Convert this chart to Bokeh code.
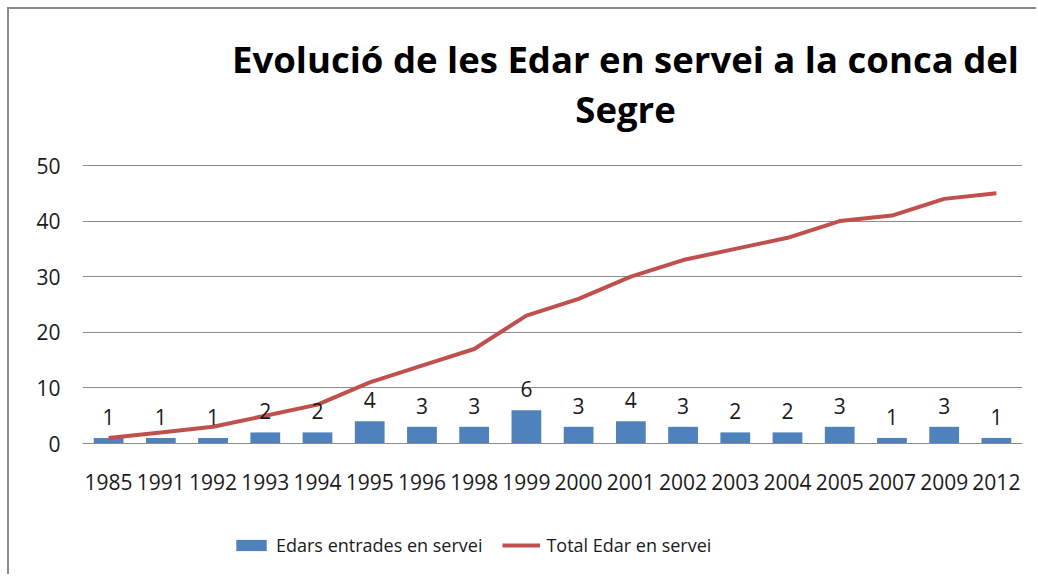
from bokeh.plotting import figure
from bokeh.models import Range1d, FactorRange, Label, Legend, LegendItem, ColumnDataSource
from bokeh.embed import file_html
from bokeh.resources import INLINE
from bokeh.core.properties import value

years = ["1985", "1991", "1992", "1993", "1994", "1995", "1996", "1998", "1999",
         "2000", "2001", "2002", "2003", "2004", "2005", "2007", "2009", "2012"]
new_edars = [1, 1, 1, 2, 2, 4, 3, 3, 6, 3, 4, 3, 2, 2, 3, 1, 3, 1]
total_edars = [1, 2, 3, 5, 7, 11, 14, 17, 23, 26, 30, 33, 35, 37, 40, 41, 44, 45]
title_line1 = "Evolució de les Edar en servei a la conca del"
title_line2 = "Segre"
bar_label = "Edars entrades en servei"
line_label = "Total Edar en servei"
y_ticks = [0, 10, 20, 30, 40, 50]

BLUE = "#4F81BD"
RED = "#C0504D"
GRID = "#8c8c8c"
FONT = "Open Sans"
TXT = "#1a1a1a"

src = ColumnDataSource(dict(x=years, bars=new_edars, total=total_edars,
                            lbl=[str(v) for v in new_edars]))

# frame covers the full height; the value axis 0..50 occupies the middle band
p = figure(frame_width=940, frame_height=565, x_range=FactorRange(*years),
           y_range=Range1d(-23.56, 78.06), title=None,
           output_backend="svg", toolbar_location=None,
           min_border_left=73, min_border_right=14, min_border_top=0, min_border_bottom=0)
p.styles = {"margin-left": "7px", "margin-top": "7px",
            "border-left": "2px solid #8a8a8a", "border-top": "2px solid #8a8a8a"}

bars = p.vbar(x="x", top="bars", width=0.57, source=src, fill_color=BLUE, line_color=None)
line = p.line(x="x", y="total", source=src, line_color=RED, line_width=4)
p.text(x="x", y="bars", text="lbl", source=src, text_align="center", text_baseline="bottom",
       y_offset=-13, text_font=value(FONT), text_font_size="21px", text_color=TXT)

for txt, yy in ((title_line1, 516), (title_line2, 466)):
    p.add_layout(Label(x=543, y=yy, x_units="screen", y_units="screen", text=txt,
                       text_align="center", text_baseline="middle", text_font=FONT,
                       text_font_size="36.5px", text_font_style="bold", text_color="#000000"))

p.outline_line_color = None
p.xgrid.grid_line_color = None
p.ygrid.grid_line_color = GRID
p.ygrid.grid_line_width = 1

p.yaxis.ticker = y_ticks
p.yaxis.axis_line_color = None
p.yaxis.major_tick_line_color = None
p.yaxis.minor_tick_line_color = None
p.yaxis.major_label_text_font = FONT
p.yaxis.major_label_text_font_size = "21px"
p.yaxis.major_label_text_color = TXT
p.yaxis.major_label_standoff = 16

p.xaxis.fixed_location = 0
p.xaxis.axis_line_color = GRID
p.xaxis.major_tick_line_color = None
p.xaxis.minor_tick_line_color = None
p.xaxis.major_label_text_font = FONT
p.xaxis.major_label_text_font_size = "21px"
p.xaxis.major_label_text_color = TXT
p.xaxis.major_label_standoff = 24

legend = Legend(items=[LegendItem(label=bar_label, renderers=[bars]),
                       LegendItem(label=line_label, renderers=[line])],
                orientation="horizontal", location=(150, 17),
                label_text_font=FONT, label_text_font_size="18px", label_text_color=TXT,
                glyph_width=38, glyph_height=14, label_standoff=6, spacing=20,
                border_line_color=None, background_fill_alpha=0, margin=0, padding=0)
p.add_layout(legend, "center")

open("out.html", "w").write(file_html(p, INLINE))
